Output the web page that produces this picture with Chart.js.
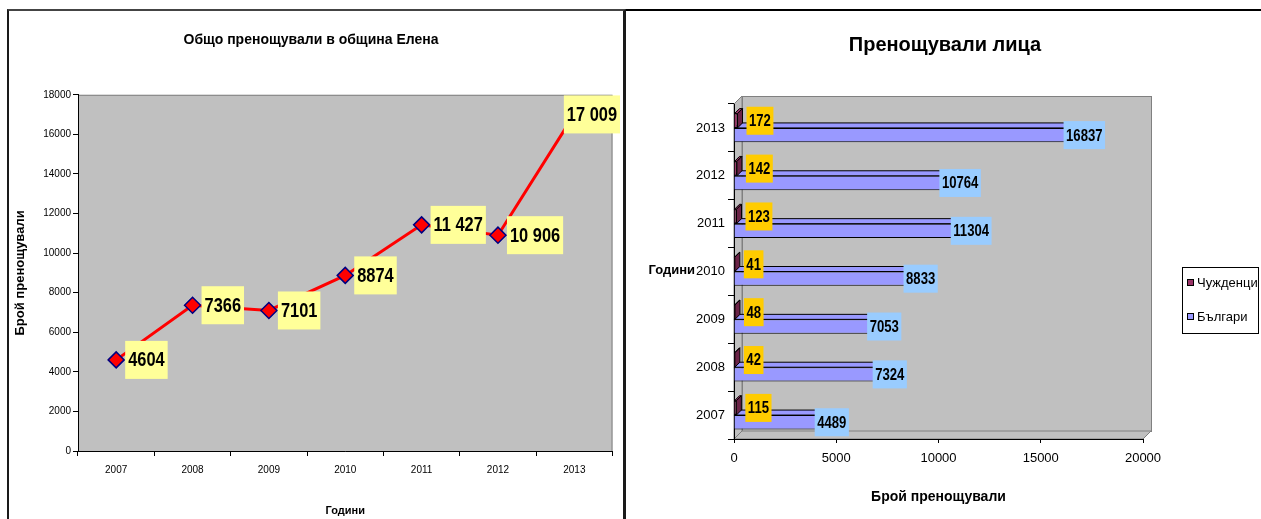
<!DOCTYPE html>
<html>
<head>
<meta charset="utf-8">
<script src="https://cdn.jsdelivr.net/npm/chart.js@4/dist/chart.umd.min.js"></script>
<style>
body { margin: 0; background: #fff; width: 1261px; height: 519px; overflow: hidden; position: relative; }
#frameL { position: absolute; left: 7px; top: 9px; width: 614px; height: 520px; border-left: 2px solid #1a1a1a; border-top: 2px solid #444; border-right: 3px solid #1a1a1a; }
#frameR { position: absolute; left: 626px; top: 9px; width: 635px; height: 0; border-top: 2px solid #000; }
#c1 { position: absolute; left: 9px; top: 11px; }
#c2 { position: absolute; left: 627px; top: 11px; }
</style>
</head>
<body>
<div id="frameL"></div>
<div id="frameR"></div>
<canvas id="c1" width="613" height="508"></canvas>
<canvas id="c2" width="634" height="508"></canvas>
<script>
var years = ['2007', '2008', '2009', '2010', '2011', '2012', '2013'];
var totalNights = [4604, 7366, 7101, 8874, 11427, 10906, 17009];
var foreigners = [115, 42, 48, 41, 123, 142, 172];
var bulgarians = [4489, 7324, 7053, 8833, 11304, 10764, 16837];
var seriesNames = ['Чужденци', 'Българи'];
var leftYTicks = [0, 2000, 4000, 6000, 8000, 10000, 12000, 14000, 16000, 18000];
var rightXTicks = [0, 5000, 10000, 15000, 20000];

var SANS = "'Liberation Sans', Arial, sans-serif";
var SQUEEZE = 0.82; // the Excel labels look like a condensed face

Chart.defaults.font.family = SANS;
Chart.defaults.color = '#000';

function fmt(v) {
    // Excel showed the big ones with a space separator
    return v >= 10000 ? String(v).replace(/(\d)(?=(\d{3})+$)/g, '$1 ') : String(v);
}
function plain(v) { return String(v); }

function narrowText(ctx, txt, cx, cy) {
    ctx.save();
    ctx.translate(cx, cy);
    ctx.scale(SQUEEZE, 1);
    ctx.fillText(txt, 0, 0);
    ctx.restore();
}

// ---------- left chart ----------
var plotBg = {
    id: 'plotBg',
    beforeDraw: function(chart) {
        var a = chart.chartArea, ctx = chart.ctx;
        ctx.save();
        ctx.fillStyle = '#C0C0C0';
        ctx.fillRect(a.left, a.top, a.right - a.left, a.bottom - a.top);
        ctx.strokeStyle = '#808080';
        ctx.lineWidth = 1;
        ctx.strokeRect(a.left + 0.5, a.top + 0.5, a.right - a.left - 1, a.bottom - a.top);
        ctx.restore();
    }
};

var lineLabels = {
    id: 'lineLabels',
    afterDatasetsDraw: function(chart) {
        var ctx = chart.ctx, meta = chart.getDatasetMeta(0);
        ctx.save();
        ctx.font = 'bold 20px ' + SANS;
        ctx.textAlign = 'center';
        ctx.textBaseline = 'middle';
        meta.data.forEach(function(pt, i) {
            var txt = fmt(totalNights[i]);
            var w = ctx.measureText(txt).width * SQUEEZE + 6, h = 38;
            var x = pt.x + 9;
            if (x + w > chart.width - 2) x = chart.width - 2 - w;
            ctx.fillStyle = '#FFFF99';
            ctx.fillRect(x, pt.y - h / 2, w, h);
            ctx.fillStyle = '#000';
            narrowText(ctx, txt, x + w / 2, pt.y + 1);
        });
        ctx.restore();
    }
};

new Chart(document.getElementById('c1'), {
    type: 'line',
    data: {
        labels: years,
        datasets: [{
            data: totalNights,
            borderColor: '#FF0000',
            borderWidth: 3,
            tension: 0,
            pointStyle: 'rectRot',
            pointRadius: 8,
            pointBackgroundColor: '#FF0000',
            pointBorderColor: '#000080',
            pointBorderWidth: 1.5
        }]
    },
    options: {
        responsive: false,
        animation: false,
        layout: { padding: { left: 0, right: 9, top: 0, bottom: 0 } },
        plugins: {
            legend: { display: false },
            tooltip: { enabled: false },
            title: {
                display: true,
                text: 'Общо пренощували в община Елена',
                font: { size: 14, weight: 'bold' },
                padding: { top: 21, bottom: 46 }
            }
        },
        scales: {
            x: {
                offset: true,
                grid: { offset: true, drawOnChartArea: false, tickLength: 5, color: '#000' },
                border: { color: '#000' },
                ticks: { font: { size: 10 }, padding: 8, maxRotation: 0 },
                title: { display: true, text: 'Години', font: { size: 11, weight: 'bold' }, padding: { top: 0, bottom: 1 } },
                afterFit: function(s) { s.height = 68; }
            },
            y: {
                min: 0,
                max: 18000,
                afterBuildTicks: function(s) { s.ticks = leftYTicks.map(function(v) { return { value: v }; }); },
                grid: { drawOnChartArea: false, tickLength: 5, color: '#000' },
                border: { color: '#000' },
                ticks: { font: { size: 10 }, padding: 2, callback: plain },
                title: { display: true, text: 'Брой пренощували', font: { size: 13, weight: 'bold' }, padding: { top: 4, bottom: 0 } },
                afterFit: function(s) { s.width = 69; }
            }
        }
    },
    plugins: [plotBg, lineLabels]
});

// ---------- right chart ----------
var DEPTH = 8;
var barColors = ['#993366', '#9999FF'];
var sideColors = ['#6B2347', '#6B6BCC'];

var wall3d = {
    id: 'wall3d',
    beforeDraw: function(chart) {
        var a = chart.chartArea, ctx = chart.ctx, D = DEPTH;
        ctx.save();
        ctx.fillStyle = '#C0C0C0';
        ctx.strokeStyle = '#808080';
        ctx.lineWidth = 1;
        ctx.fillRect(a.left + D, a.top - D, a.right - a.left, a.bottom - a.top);
        ctx.strokeRect(a.left + D + 0.5, a.top - D + 0.5, a.right - a.left, a.bottom - a.top);
        ctx.beginPath();
        ctx.moveTo(a.left, a.top); ctx.lineTo(a.left + D, a.top - D);
        ctx.lineTo(a.left + D, a.bottom - D); ctx.lineTo(a.left, a.bottom);
        ctx.closePath(); ctx.fill(); ctx.stroke();
        ctx.beginPath();
        ctx.moveTo(a.left, a.bottom); ctx.lineTo(a.left + D, a.bottom - D);
        ctx.lineTo(a.right + D, a.bottom - D); ctx.lineTo(a.right, a.bottom);
        ctx.closePath(); ctx.fill(); ctx.stroke();
        ctx.restore();
    }
};

var barDepth = {
    id: 'barDepth',
    beforeDatasetsDraw: function(chart) {
        var ctx = chart.ctx, d = 5;
        ctx.save();
        ctx.strokeStyle = '#000';
        ctx.lineWidth = 1;
        [1, 0].forEach(function(di) {
            chart.getDatasetMeta(di).data.forEach(function(el) {
                var p = el.getProps(['x', 'y', 'base', 'height'], true);
                var t = p.y - p.height / 2, b = p.y + p.height / 2;
                ctx.fillStyle = barColors[di];
                ctx.beginPath();
                ctx.moveTo(p.base, t); ctx.lineTo(p.base + d, t - d);
                ctx.lineTo(p.x + d, t - d); ctx.lineTo(p.x, t);
                ctx.closePath(); ctx.fill(); ctx.stroke();
                ctx.fillStyle = sideColors[di];
                ctx.beginPath();
                ctx.moveTo(p.x, t); ctx.lineTo(p.x + d, t - d);
                ctx.lineTo(p.x + d, b - d); ctx.lineTo(p.x, b);
                ctx.closePath(); ctx.fill(); ctx.stroke();
            });
        });
        ctx.restore();
    }
};

var barLabels = {
    id: 'barLabels',
    afterDatasetsDraw: function(chart) {
        var ctx = chart.ctx;
        ctx.save();
        ctx.font = 'bold 16px ' + SANS;
        ctx.textAlign = 'center';
        ctx.textBaseline = 'middle';
        chart.getDatasetMeta(0).data.forEach(function(el, i) {
            var txt = String(foreigners[i]);
            var w = ctx.measureText(txt).width * SQUEEZE + 5, h = 28;
            var x = el.x + 9;
            ctx.fillStyle = '#FFCC00';
            ctx.fillRect(x, el.y - h / 2, w, h);
            ctx.fillStyle = '#000';
            narrowText(ctx, txt, x + w / 2, el.y + 1);
        });
        chart.getDatasetMeta(1).data.forEach(function(el, i) {
            var txt = String(bulgarians[i]);
            var w = ctx.measureText(txt).width * SQUEEZE + 5, h = 28;
            var cx = el.x + 6;
            ctx.fillStyle = '#99CCFF';
            ctx.fillRect(cx - w / 2, el.y - h / 2, w, h);
            ctx.fillStyle = '#000';
            narrowText(ctx, txt, cx, el.y + 1);
        });
        ctx.restore();
    }
};

var extras = {
    id: 'extras',
    afterDraw: function(chart) {
        var ctx = chart.ctx;
        ctx.save();
        ctx.fillStyle = '#000';
        ctx.textBaseline = 'middle';
        ctx.textAlign = 'center';
        ctx.font = 'bold 20px ' + SANS;
        ctx.fillText('Пренощували лица', 318, 34);
        ctx.textAlign = 'right';
        ctx.font = 'bold 13px ' + SANS;
        ctx.fillText('Години', 68, 259);
        // legend box
        ctx.strokeStyle = '#000';
        ctx.lineWidth = 1;
        ctx.strokeRect(555.5, 256.5, 76, 66);
        ctx.textAlign = 'left';
        ctx.font = '13px ' + SANS;
        chart.data.datasets.forEach(function(ds, i) {
            var y = 272 + i * 34;
            ctx.fillStyle = ds.backgroundColor;
            ctx.fillRect(560, y - 4, 7, 7);
            ctx.strokeRect(560.5, y - 3.5, 6, 6);
            ctx.fillStyle = '#000';
            ctx.fillText(ds.label, 570, y);
        });
        ctx.restore();
    }
};

new Chart(document.getElementById('c2'), {
    type: 'bar',
    data: {
        labels: years,
        datasets: [
            { label: seriesNames[0], data: foreigners, backgroundColor: barColors[0], borderColor: '#000', borderWidth: 1 },
            { label: seriesNames[1], data: bulgarians, backgroundColor: barColors[1], borderColor: '#000', borderWidth: 1 }
        ]
    },
    options: {
        indexAxis: 'y',
        responsive: false,
        animation: false,
        datasets: { bar: { categoryPercentage: 0.6, barPercentage: 1.0 } },
        layout: { padding: { left: 0, right: 118, top: 93, bottom: 0 } },
        plugins: {
            legend: { display: false },
            tooltip: { enabled: false },
            title: { display: false }
        },
        scales: {
            x: {
                min: 0,
                max: 20000,
                afterBuildTicks: function(s) { s.ticks = rightXTicks.map(function(v) { return { value: v }; }); },
                grid: { drawOnChartArea: false, tickLength: 4, color: '#000' },
                border: { color: '#000' },
                ticks: { font: { size: 13 }, padding: 8, maxRotation: 0, callback: plain },
                title: { display: true, text: 'Брой пренощували', font: { size: 14, weight: 'bold' }, padding: { top: 0, bottom: 13 } },
                afterFit: function(s) { s.height = 80; }
            },
            y: {
                reverse: true,
                grid: { offset: true, drawOnChartArea: false, tickLength: 6, color: '#000' },
                border: { color: '#000' },
                ticks: { font: { size: 13 }, padding: 3 },
                afterFit: function(s) { s.width = 107; }
            }
        }
    },
    plugins: [wall3d, barDepth, barLabels, extras]
});
</script>
</body>
</html>
